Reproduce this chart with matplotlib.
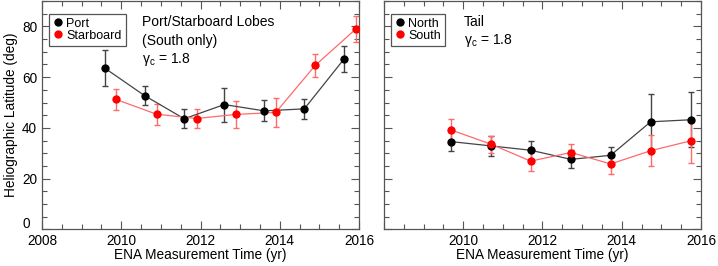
import matplotlib
matplotlib.use("Agg")
from matplotlib import pyplot as plt
from matplotlib.ticker import MultipleLocator

plt.rcParams['font.family'] = ['Liberation Sans', 'DejaVu Sans']
plt.rcParams['font.size'] = 9.8

# left panel: port / starboard lobes
port_x = [2009.58, 2010.59, 2011.59, 2012.6, 2013.61, 2014.62, 2015.62]
port_y = [63.6, 52.7, 43.6, 49.2, 46.7, 47.5, 67.1]
port_err = [7.0, 3.8, 3.8, 6.7, 4.1, 3.8, 5.0]

star_x = [2009.87, 2010.89, 2011.9, 2012.89, 2013.9, 2014.9, 2015.93]
star_y = [51.2, 45.4, 43.7, 45.3, 46.1, 64.7, 79.1]
star_err = [4.1, 4.2, 3.9, 5.3, 5.8, 4.5, 5.1]

# right panel: tail
north_x = [2009.69, 2010.7, 2011.7, 2012.72, 2013.72, 2014.73, 2015.74]
north_y = [34.6, 32.9, 31.2, 27.6, 29.2, 42.4, 43.2]
north_err = [3.9, 3.8, 3.5, 3.5, 3.4, 11.0, 10.8]

south_x = [2009.69, 2010.7, 2011.7, 2012.72, 2013.72, 2014.73, 2015.74]
south_y = [39.2, 33.6, 26.9, 30.3, 25.8, 31.0, 34.9]
south_err = [4.4, 3.3, 3.9, 3.5, 4.1, 6.2, 8.6]

years = [2008, 2010, 2012, 2014, 2016]
lats = [0, 20, 40, 60, 80]

fig = plt.figure(figsize=(7.18, 2.66), dpi=100)
ax1 = fig.add_axes([0.0585, 0.1376, 0.4415, 0.8586])
ax2 = fig.add_axes([0.5348, 0.1376, 0.4415, 0.8586])


def series(ax, x, y, err, color, lcolor, label):
    ax.errorbar(x, y, yerr=err, fmt='none', ecolor=lcolor, elinewidth=1,
                capsize=2.5, capthick=1, zorder=2)
    ax.plot(x, y, '-', color=lcolor, lw=0.9, zorder=3)
    ax.plot(x, y, 'o', color=color, ms=6, mec='none', zorder=4, label=label)


series(ax1, port_x, port_y, port_err, 'black', '#444444', 'Port')
series(ax1, star_x, star_y, star_err, '#ff0000', '#ff6a6a', 'Starboard')
series(ax2, north_x, north_y, north_err, 'black', '#444444', 'North')
series(ax2, south_x, south_y, south_err, '#ff0000', '#ff6a6a', 'South')

for ax in (ax1, ax2):
    ax.set_xlim(2008, 2016)
    ax.set_ylim(0, 90)
    ax.set_xticks(years)
    ax.set_yticks(lats)
    ax.xaxis.set_minor_locator(MultipleLocator(0.5))
    ax.yaxis.set_minor_locator(MultipleLocator(5))
    ax.tick_params(which='both', direction='in', top=True, right=True,
                   color='#555555', width=0.8)
    ax.tick_params(which='major', length=6)
    ax.tick_params(which='minor', length=3.5)
    for s in ax.spines.values():
        s.set_color('#555555')
        s.set_linewidth(0.9)
    ax.set_xlabel('ENA Measurement Time (yr)', labelpad=0)
    leg = ax.legend(loc='upper left', handletextpad=0.2, handlelength=0.9,
                    borderpad=0.3, labelspacing=0.0, fancybox=False,
                    framealpha=1, borderaxespad=0, fontsize=9,
                    bbox_to_anchor=(0.022, 0.943))
    leg.get_frame().set_edgecolor('#555555')
    leg.get_frame().set_linewidth(0.9)

ax1.set_ylabel('Heliographic Latitude (deg)', labelpad=3)
ax1.set_yticklabels([''] + [str(v) for v in lats[1:]])
ax1.annotate('0', xy=(0, 0), xycoords='axes fraction', xytext=(-8.5, 4),
             textcoords='offset points', ha='right', va='center')
ax2.set_yticklabels([])
ax2.set_xticklabels([''] + [str(v) for v in years[1:]])

gamma = 'γ$_\\mathregular{c}$ = 1.8'
ax1.text(0.315, 0.908, 'Port/Starboard Lobes', transform=ax1.transAxes,
         va='center', ha='left', fontsize=10)
ax1.text(0.315, 0.826, '(South only)', transform=ax1.transAxes,
         va='center', ha='left', fontsize=10)
ax1.text(0.315, 0.746, gamma, transform=ax1.transAxes,
         va='center', ha='left', fontsize=10)
ax2.text(0.252, 0.908, 'Tail', transform=ax2.transAxes,
         va='center', ha='left', fontsize=10)
ax2.text(0.252, 0.829, gamma, transform=ax2.transAxes,
         va='center', ha='left', fontsize=10)

fig.savefig('out.png', dpi=100)
